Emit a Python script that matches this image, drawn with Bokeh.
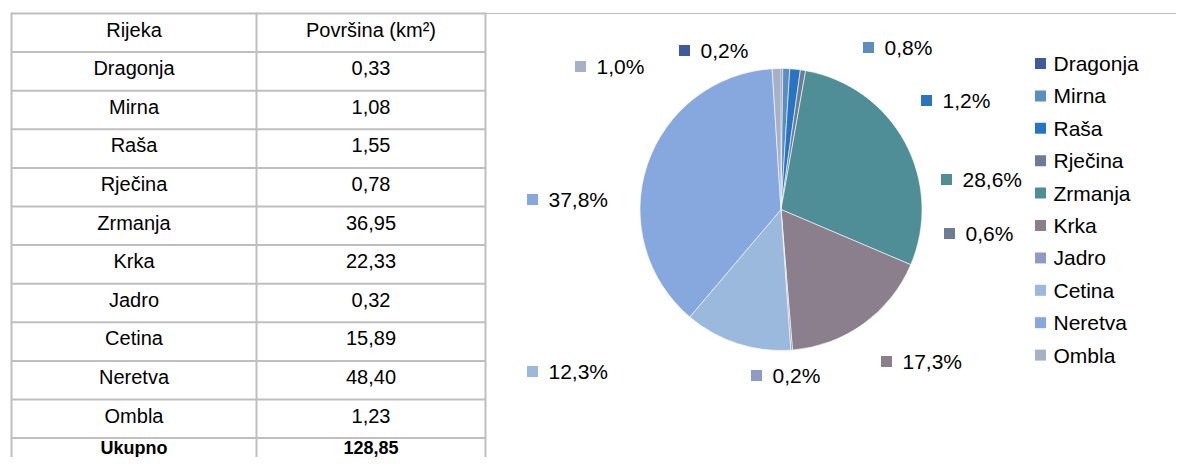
import math
from bokeh.plotting import figure
from bokeh.models import Range1d, ColumnDataSource
from bokeh.core.properties import value
from bokeh.embed import file_html
from bokeh.resources import INLINE

# ---------------- data ----------------
rivers = ["Dragonja", "Mirna", "Raša", "Rječina", "Zrmanja", "Krka", "Jadro", "Cetina", "Neretva", "Ombla"]
area_km2 = [0.33, 1.08, 1.55, 0.78, 36.95, 22.33, 0.32, 15.89, 48.40, 1.23]
total_label = "Ukupno"
total_km2 = 128.85
pie_pct = [0.2, 0.8, 1.2, 0.6, 28.6, 17.3, 0.2, 12.3, 37.8, 1.0]
colors = ["#3F5A9A", "#5B8DBF", "#2774C3", "#6C7C96", "#4F8E97",
          "#8B7F8D", "#8F9BC4", "#9AB9DD", "#87A8DE", "#A7B1C5"]
header = ["Rijeka", "Površina (km²)"]

# ---------------- layout (pixel helpers, y measured from top) ----------------
W, H = 1176, 457
def sx(X):
    return X
def sy(Y):
    return H - Y

FONT = value("Liberation Sans")

p = figure(width=W, height=H, output_backend="svg", toolbar_location=None,
           x_range=Range1d(0, W), y_range=Range1d(0, H), min_border=0)
p.axis.visible = False
p.grid.visible = False
p.outline_line_color = None
p.background_fill_color = "white"

# ---------------- table ----------------
tbl_left, tbl_mid, tbl_right = 11, 256, 485
tbl_top, row_h = 13, 38.6
nrows = len(rivers) + 2
line_col = "#BFBFBF"

hx0, hx1, hy = [], [], []
for i in range(nrows):
    y = tbl_top + row_h * i
    hx0.append(sx(tbl_left)); hx1.append(sx(tbl_right)); hy.append(sy(y))
p.segment(x0=hx0, y0=hy, x1=hx1, y1=hy, line_color=line_col, line_width=2)
for X in (tbl_left, tbl_mid, tbl_right):
    p.segment(x0=[sx(X)], y0=[sy(tbl_top - 1)], x1=[sx(X)], y1=[sy(H + 5)],
              line_color=line_col, line_width=2)
p.segment(x0=[sx(tbl_right)], y0=[sy(tbl_top)], x1=[sx(1192)], y1=[sy(tbl_top)],
          line_color=line_col, line_width=1)

def fmt(v):
    return f"{v:.2f}".replace(".", ",")

c1 = (tbl_left + tbl_mid) / 2
c2 = (tbl_mid + tbl_right) / 2
row_names = [header[0]] + rivers
row_vals = [header[1]] + [fmt(v) for v in area_km2]
ys = [sy(tbl_top + row_h * i + 16) for i in range(len(row_names))]
p.text(x=[sx(c1)] * len(row_names), y=ys, text=row_names, text_font=FONT,
       text_font_size="20px", text_align="center", text_baseline="middle",
       text_color="#000000")
p.text(x=[sx(c2)] * len(row_vals), y=ys, text=row_vals, text_font=FONT,
       text_font_size="20px", text_align="center", text_baseline="middle",
       text_color="#000000")
# total row sits at the bottom edge of the canvas: keep it fully visible
yt = sy(H - 10)
p.text(x=[sx(c1), sx(c2)], y=[yt, yt], text=[total_label, fmt(total_km2)],
       text_font=FONT, text_font_size="18px", text_font_style="bold",
       text_align="center", text_baseline="middle", text_color="#000000")

# ---------------- pie ----------------
cx, cy, R = 780.5, 209, 141
tot = sum(pie_pct)
starts, ends = [], []
acc = 0.0
for v in pie_pct:
    starts.append(math.pi / 2 - 2 * math.pi * acc / tot)
    acc += v
    ends.append(math.pi / 2 - 2 * math.pi * acc / tot)
src = ColumnDataSource(dict(start=starts, end=ends, color=colors))
p.wedge(x=sx(cx), y=sy(cy), radius=R, start_angle="start", end_angle="end",
        direction="clock", fill_color="color", line_color="white",
        line_width=0.6, source=src)

# data labels (marker square + percentage), positioned as in the reference
lbl_pos = [(684, 50), (868, 47), (926, 100), (949, 233), (946, 179),
           (886, 361), (756, 375), (532, 371), (532, 199), (580, 66)]
lx = [sx(a) for a, b in lbl_pos]
ly = [sy(b) for a, b in lbl_pos]
p.scatter(x=lx, y=ly, marker="square", size=11, fill_color=colors, line_color=None)
p.text(x=[v + 16 for v in lx], y=ly, text=[f"{v:.1f}%".replace(".", ",") for v in pie_pct],
       text_font=FONT, text_font_size="21px", text_align="left",
       text_baseline="middle", text_color="#000000")

# ---------------- legend ----------------
leg_x, leg_y0, leg_dy = 1040, 63, 32.4
gx = [sx(leg_x)] * len(rivers)
gy = [sy(leg_y0 + leg_dy * i) for i in range(len(rivers))]
p.scatter(x=gx, y=gy, marker="square", size=11, fill_color=colors, line_color=None)
p.text(x=[sx(leg_x + 13)] * len(rivers), y=gy, text=rivers, text_font=FONT,
       text_font_size="21px", text_align="left", text_baseline="middle",
       text_color="#000000")

open("out.html", "w").write(file_html(p, INLINE))
